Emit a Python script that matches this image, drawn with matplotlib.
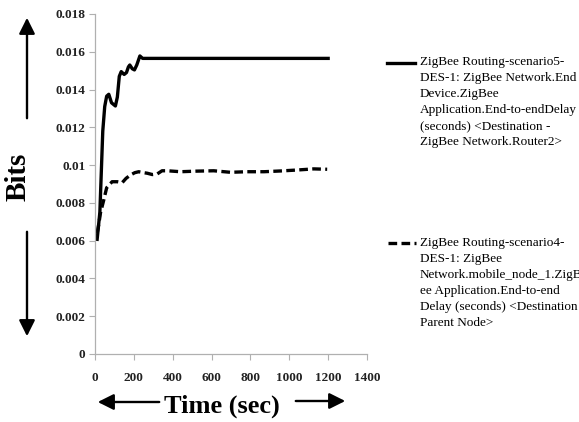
import matplotlib
matplotlib.use("Agg")
import matplotlib.pyplot as plt
from matplotlib.lines import Line2D
from matplotlib.patches import FancyArrowPatch

# ---- data ----
time_s5 = [11, 25, 40, 50, 60, 71, 85, 105, 115, 125, 135, 150, 162, 172, 179, 192, 203, 215, 231, 245, 300, 600, 900, 1200]
delay_s5 = [0.00607, 0.0075, 0.0118, 0.0131, 0.01365, 0.01375, 0.0133, 0.01313, 0.0136, 0.0147, 0.01495, 0.0148, 0.0149, 0.0152, 0.0153, 0.0151, 0.01504, 0.0153, 0.01578, 0.01565, 0.01565, 0.01565, 0.01565, 0.01565]

time_s4 = [11, 20, 28, 45, 60, 88, 115, 140, 160, 183, 205, 225, 250, 269, 295, 320, 345, 372, 440, 520, 611, 697, 783, 870, 955, 1040, 1126, 1195]
delay_s4 = [0.0064, 0.0069, 0.00746, 0.00815, 0.0088, 0.00912, 0.00912, 0.00907, 0.0093, 0.00948, 0.0096, 0.00965, 0.0096, 0.00957, 0.0095, 0.00953, 0.0097, 0.0097, 0.00965, 0.00968, 0.0097, 0.00962, 0.00965, 0.00965, 0.00969, 0.00974, 0.0098, 0.00978]

x_ticks = [0, 200, 400, 600, 800, 1000, 1200, 1400]
y_ticks = [0, 0.002, 0.004, 0.006, 0.008, 0.01, 0.012, 0.014, 0.016, 0.018]
y_tick_labels = ["0", "0.002", "0.004", "0.006", "0.008", "0.01", "0.012", "0.014", "0.016", "0.018"]

legend_s5 = ("ZigBee Routing-scenario5-\nDES-1: ZigBee Network.End\nDevice.ZigBee\n"
             "Application.End-to-endDelay\n(seconds) <Destination -\nZigBee Network.Router2>")
legend_s4 = ("ZigBee Routing-scenario4-\nDES-1: ZigBee\nNetwork.mobile_node_1.ZigB\n"
             "ee Application.End-to-end\nDelay (seconds) <Destination -\nParent Node>")

x_label = "Time (sec)"
y_label = "Bits"

W, H = 579, 422
fig = plt.figure(figsize=(W / 100, H / 100), dpi=100)
fig.patch.set_facecolor("white")
ax = fig.add_axes([95 / W, 1 - 354 / H, 272 / W, 340 / H])

ax.plot(time_s5, delay_s5, color="black", lw=2.4, solid_joinstyle="round")
ax.plot(time_s4, delay_s4, color="black", lw=2.4, linestyle=(0, (2.6, 1.3)))

ax.set_xlim(0, 1400)
ax.set_ylim(0, 0.018)
ax.set_xticks(x_ticks)
ax.set_xticklabels([str(t) for t in x_ticks])
ax.set_yticks(y_ticks)
ax.set_yticklabels(y_tick_labels)

for s in ["top", "right"]:
    ax.spines[s].set_visible(False)
for s in ["left", "bottom"]:
    ax.spines[s].set_color("#b0b0b0")
    ax.spines[s].set_linewidth(0.9)
ax.tick_params(axis="both", direction="out", length=4, width=0.8, color="#b0b0b0",
               labelsize=9.5, pad=3)
ax.tick_params(axis="x", pad=9)
for lab in ax.get_xticklabels() + ax.get_yticklabels():
    lab.set_fontfamily("Liberation Serif")
    lab.set_fontweight("bold")
    lab.set_color("#222222")

def fx(px):
    return px / W

def fy(py):
    return 1 - py / H

# axis titles
fig.text(fx(18), fy(177), y_label, rotation=90, ha="center", va="center",
         fontsize=21, fontweight="bold", family="Liberation Serif")
fig.text(fx(222), fy(406), x_label, ha="center", va="center",
         fontsize=19, fontweight="bold", family="Liberation Serif")

# arrows
def arrow(x0, y0, x1, y1):
    a = FancyArrowPatch((fx(x0), fy(y0)), (fx(x1), fy(y1)), transform=fig.transFigure,
                        arrowstyle="-|>,head_length=6,head_width=3", color="black",
                        lw=1.7, mutation_scale=1.6)
    fig.patches.append(a)

arrow(27, 121, 27, 15)
arrow(27, 229, 27, 339)
arrow(162, 402, 95, 402)
arrow(293, 401, 348, 401)

# legend
fig.lines.append(Line2D([fx(387), fx(415)], [fy(63), fy(63)], transform=fig.transFigure,
                        color="black", lw=2.4))
fig.lines.append(Line2D([fx(388), fx(416)], [fy(243), fy(243)], transform=fig.transFigure,
                        color="black", lw=2.4, linestyle=(0, (2.6, 1.3))))
fig.text(fx(420), fy(56), legend_s5, ha="left", va="top", fontsize=9.5,
         family="Liberation Serif", linespacing=1.45)
fig.text(fx(420), fy(237), legend_s4, ha="left", va="top", fontsize=9.5,
         family="Liberation Serif", linespacing=1.45)

fig.savefig("out.png", dpi=100)
